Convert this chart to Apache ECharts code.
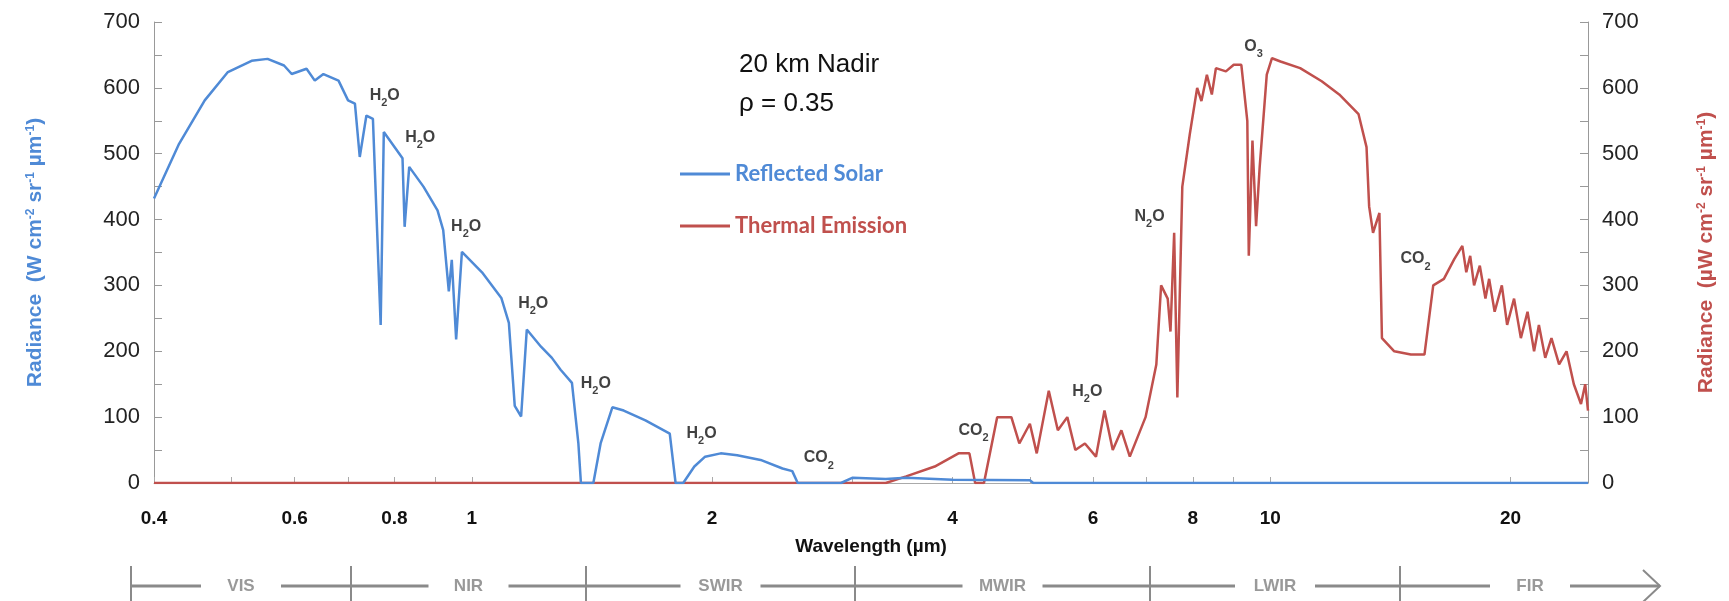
<!DOCTYPE html>
<html><head><meta charset="utf-8">
<script src="https://cdn.jsdelivr.net/npm/echarts@6/dist/echarts.min.js"></script>
<style>html,body{margin:0;padding:0;background:#fff}#c{width:1729px;height:601px}</style>
</head><body><div id="c"></div>
<script>
const xTicks = [0.4,0.6,0.8,1,2,4,6,8,10,20];
const xMinorTicks = [0.4,0.5,0.6,0.7,0.8,0.9,1,2,3,4,5,6,7,8,9,10,20];
const solarX = [0.4,0.43,0.463,0.495,0.53,0.555,0.582,0.595,0.621,0.636,0.652,0.681,0.70,0.714,0.724,0.738,0.752,0.769,0.776,0.819,0.824,0.835,0.87,0.906,0.921,0.936,0.944,0.956,0.972,1.03,1.089,1.113,1.132,1.153,1.172,1.221,1.26,1.292,1.335,1.36,1.37,1.42,1.45,1.50,1.55,1.65,1.77,1.80,1.84,1.90,1.96,2.05,2.15,2.3,2.45,2.52,2.56,2.9,3.0,3.3,3.5,4.0,5.0,5.05,25];
const solarY = [432,515,581,624,641,644,634,621,629,611,621,611,581,576,495,558,553,240,533,493,389,480,450,414,384,291,339,218,351,320,281,243,117,101,233,207,190,172,152,60,0,0,60,115,110,95,75,0,0,25,40,45,42,35,22,18,0,0,8,6,8,5,4,0,0];
const thermalX = [0.4,3.3,3.5,3.8,4.07,4.2,4.27,4.38,4.55,4.74,4.85,5.0,5.1,5.28,5.42,5.57,5.7,5.86,6.05,6.2,6.35,6.51,6.67,6.98,7.2,7.3,7.44,7.5,7.58,7.65,7.76,7.93,8.1,8.2,8.33,8.45,8.55,8.8,9.0,9.2,9.36,9.4,9.5,9.6,9.7,9.9,10.05,10.3,10.9,11.6,12.2,12.9,13.2,13.3,13.45,13.7,13.8,14.3,15.0,15.6,16.0,16.5,17.0,17.4,17.6,17.8,18.0,18.3,18.6,18.8,19.1,19.5,19.8,20.2,20.6,21.0,21.4,21.7,22.1,22.5,23.0,23.5,24.0,24.5,24.8,25];
const thermalY = [0,0,10,25,45,45,0,0,100,100,60,90,45,140,80,100,50,60,40,110,50,80,40,100,180,300,280,230,380,130,450,530,600,580,620,590,630,625,635,635,550,345,520,390,480,620,645,640,630,610,590,560,510,420,380,410,220,200,195,195,300,310,340,360,320,345,300,330,280,310,260,300,240,280,220,260,200,240,190,220,180,200,150,120,150,110];
const annotations = [[0.778,588,'H{s|2}O'],[0.862,524,'H{s|2}O'],[0.984,390,'H{s|2}O'],[1.194,273,'H{s|2}O'],[1.43,151,'H{s|2}O'],[1.94,75,'H{s|2}O'],[2.72,38,'CO{s|2}'],[4.25,80,'CO{s|2}'],[5.9,139,'H{s|2}O'],[7.06,404,'N{s|2}O'],[9.53,663,'O{s|3}'],[15.2,340,'CO{s|2}']];
const bands = ['VIS','NIR','SWIR','MWIR','LWIR','FIR'];

const blue = '#4f8ad6', red = '#c0504d', grey='#8a8a8a';
const F = 'Liberation Sans, Arial, sans-serif';
const zip = (a,b)=>a.map((v,i)=>[v,b[i]]);
const chart = echarts.init(document.getElementById('c'));
const bx = [131,351,586,855,1150,1400,1660];
const graphics = [];
const yB = 586;
for (let i=0;i<6;i++){
  graphics.push({type:'line',shape:{x1:bx[i],y1:566,x2:bx[i],y2:601},style:{stroke:grey,lineWidth:2}});
  const mid=(bx[i]+bx[i+1])/2;
  graphics.push({type:'line',shape:{x1:bx[i],y1:yB,x2:mid-40,y2:yB},style:{stroke:grey,lineWidth:3}});
  graphics.push({type:'line',shape:{x1:mid+40,y1:yB,x2:bx[i+1],y2:yB},style:{stroke:grey,lineWidth:3}});
  graphics.push({type:'text',x:mid,y:yB,style:{text:bands[i],font:'bold 17px '+F,fill:'#999',align:'center',verticalAlign:'middle'}});
}
graphics.push({type:'polyline',shape:{points:[[1643,570],[1660,586],[1643,602]]},style:{stroke:grey,lineWidth:2,fill:null}});
graphics.push({type:'text',x:739,y:52,style:{text:'20 km Nadir',font:'26px '+F,fill:'#111'}});
graphics.push({type:'text',x:739,y:91,style:{text:'ρ = 0.35',font:'26px '+F,fill:'#111'}});

const sub = {s:{fontSize:11,fontWeight:'bold',verticalAlign:'bottom',lineHeight:26,fontFamily:F}};
const supB = {n:{color:blue,fontSize:21,fontWeight:'bold',fontFamily:F}, p:{color:blue,fontSize:12,fontWeight:'bold',verticalAlign:'top',lineHeight:12,fontFamily:F}};
const supR = {n:{color:red,fontSize:21,fontWeight:'bold',fontFamily:F}, p:{color:red,fontSize:12,fontWeight:'bold',verticalAlign:'top',lineHeight:12,fontFamily:F}};
const yAxisCommon = {type:'value',min:0,max:700,interval:100,
  axisLine:{show:true,lineStyle:{color:'#999'}},axisTick:{show:true,length:8,inside:true,lineStyle:{color:'#999'}},
  minorTick:{show:true,splitNumber:2,length:8,lineStyle:{color:'#999'}},
  splitLine:{show:false},axisLabel:{fontSize:22,color:'#222',fontFamily:F,margin:14},
  nameLocation:'middle',nameRotate:90};
chart.setOption({
  animation:false,
  grid:{left:154,right:141,top:22,bottom:118},
  graphic:graphics,
  legend:{orient:'vertical',left:675,top:158,itemWidth:50,itemHeight:3,itemGap:30,icon:'rect',
    data:[{name:'Reflected Solar',textStyle:{color:blue}},{name:'Thermal Emission',textStyle:{color:red}}],
    textStyle:{fontSize:22,fontWeight:'bold',fontFamily:'Lato, '+F}},
  xAxis:{type:'log',min:0.4,max:25,
    axisLine:{lineStyle:{color:'#aaa'}},
    axisTick:{customValues:xMinorTicks,inside:true,length:6,lineStyle:{color:'#aaa'}},
    axisLabel:{customValues:xTicks,fontSize:19,fontWeight:'bold',color:'#111',fontFamily:F,margin:26},
    splitLine:{show:false},
    name:'Wavelength (µm)',nameLocation:'middle',nameGap:54,nameTextStyle:{fontSize:19,fontWeight:'bold',color:'#111',fontFamily:F}},
  yAxis:[
    Object.assign({},yAxisCommon,{position:'left',name:'{n|Radiance  (W cm}{p|-2}{n| sr}{p|-1}{n| µm}{p|-1}{n|)}',nameGap:108,nameTextStyle:{rich:supB}}),
    Object.assign({},yAxisCommon,{position:'right',name:'{n|Radiance  (µW cm}{p|-2}{n| sr}{p|-1}{n| µm}{p|-1}{n|)}',nameGap:108,nameTextStyle:{rich:supR}})
  ],
  series:[
    {name:'Thermal Emission',type:'line',data:zip(thermalX,thermalY),showSymbol:false,lineStyle:{color:red,width:2.5},itemStyle:{color:red},z:2},
    {name:'Reflected Solar',type:'line',data:zip(solarX,solarY),showSymbol:false,lineStyle:{color:blue,width:2.5},itemStyle:{color:blue},z:3},
    {type:'scatter',data:annotations,symbolSize:0,silent:true,z:5,
      label:{show:true,position:'inside',formatter:p=>p.data[2],fontSize:16,fontWeight:'bold',color:'#111',fontFamily:F,lineHeight:22,rich:sub}}
  ]
});
</script></body></html>
